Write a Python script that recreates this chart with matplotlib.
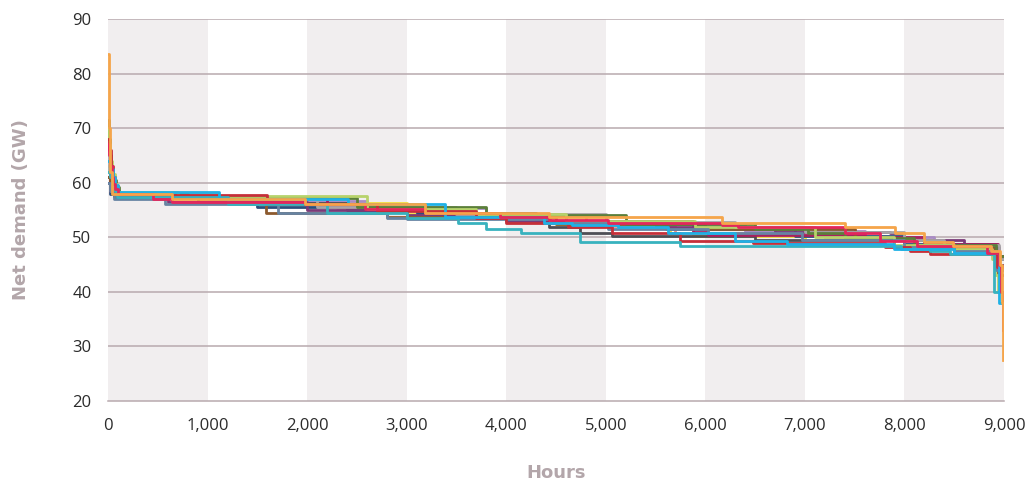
import matplotlib.pyplot as plt
from matplotlib.ticker import FuncFormatter

# hours where each step starts, and net demand (GW) for that step
orange_h = [0, 5, 15, 40, 640, 1980, 3180, 4430, 6165, 7400, 7905, 8200, 8490, 8870, 8960, 8975, 8985, 8990]
orange_v = [83.5, 70, 62, 57.9, 57.0, 56.0, 54.5, 53.7, 52.7, 51.8, 50.8, 49.2, 48.4, 47.5, 45, 38, 27.5, 27.5]

crimson_h = [0, 8, 20, 35, 50, 70, 100, 450, 640, 1980, 2580, 3185, 3940, 4430, 5020, 6165, 6330, 7400, 7750, 8130, 8830, 8950, 8970, 8985, 8990]
crimson_v = [67, 65, 63, 61, 59.8, 58.8, 57.9, 57.0, 56.5, 56.0, 55.2, 54.5, 53.7, 53.2, 52.7, 52.2, 51.8, 50.8, 49.4, 48.4, 47.2, 45, 40, 33, 33]

cyan_h = [0, 20, 45, 70, 100, 1115, 2410, 3385, 4380, 4660, 5120, 5620, 6300, 6820, 7900, 8500, 8950, 8990]
cyan_v = [64, 62.5, 61, 59.5, 58.3, 57.0, 56.0, 53.8, 52.7, 52.2, 51.8, 50.8, 49.3, 48.8, 47.8, 47.2, 38, 38]

teal_h = [0, 15, 40, 65, 90, 1200, 2200, 3000, 3520, 3800, 4150, 4740, 5745, 7970, 8255, 8460, 8900, 8990]
teal_v = [62, 61, 59.8, 58.5, 57.3, 56.1, 54.5, 53.6, 52.7, 51.6, 50.8, 49.2, 48.4, 47.9, 47.4, 47.0, 40, 40]

slate_h = [0, 20, 60, 570, 1710, 2800, 3000, 4440, 5020, 6030, 6970, 8000, 8500, 8920, 8990]
slate_v = [60, 58.5, 57.0, 56.0, 54.5, 53.6, 53.3, 52.7, 51.5, 50.8, 49.5, 48.2, 47.5, 44, 44]

brown_h = [0, 15, 60, 1590, 2800, 4500, 6000, 7500, 8300, 8900, 8940, 8990]
brown_v = [61, 59, 57.5, 54.5, 53.8, 52.5, 51.5, 49.5, 48.0, 46, 43, 43]

gray_h = [0, 10, 40, 100, 1115, 2100, 3500, 5000, 6300, 7000, 8000, 8400, 8950, 8990]
gray_v = [66, 62, 58.5, 57.9, 57.0, 55.5, 54.3, 52.8, 51.8, 51.0, 49.5, 48.5, 46, 46]

purple_h = [0, 20, 60, 600, 2000, 3000, 4000, 5500, 6700, 7850, 8000, 8600, 8950, 8990]
purple_v = [60, 58.5, 57.5, 56.5, 55.0, 54.0, 53.0, 51.9, 51.0, 50.7, 49.5, 48.3, 45, 45]

dkgreen_h = [0, 5, 15, 30, 50, 75, 110, 800, 2500, 3800, 5200, 6500, 7030, 7400, 8100, 8920, 8990]
dkgreen_v = [71.5, 68, 65, 62.5, 60.5, 59.2, 58, 57.2, 55.5, 54.0, 52.5, 51.5, 50.8, 49.8, 48.5, 46.5, 46.5]

ltgreen_h = [0, 8, 20, 40, 65, 90, 700, 2600, 3700, 4600, 5900, 7100, 7900, 8500, 8880, 8910, 8940, 8990]
ltgreen_v = [70, 67, 64, 61.5, 59.8, 58.2, 57.5, 55.2, 54.2, 53.0, 51.8, 50.0, 48.6, 47.9, 46, 43, 40, 40]

red_h = [0, 8, 25, 45, 70, 100, 1600, 2700, 3700, 4000, 4620, 5060, 5745, 6480, 7800, 8055, 8255, 8930, 8990]
red_v = [68, 66, 63, 61, 59.3, 57.8, 56.0, 54.8, 53.5, 52.7, 51.8, 50.8, 49.3, 49.0, 48.2, 47.4, 47.0, 44.5, 44.5]

yellow_h = [0, 20, 80, 1500, 3000, 4500, 5645, 5880, 7000, 8000, 8930, 8990]
yellow_v = [63, 59, 57.5, 56.3, 54.2, 52.5, 50.8, 50.3, 49.5, 48.0, 46, 46]

magenta_h = [0, 20, 70, 600, 2200, 3400, 4600, 5880, 6030, 7600, 8200, 8940, 8990]
magenta_v = [64, 60, 58, 57.2, 55.5, 54.3, 52.9, 51.0, 50.5, 50.0, 48.8, 46.5, 46.5]

dkgray_h = [0, 20, 80, 900, 2400, 3600, 4425, 4740, 5060, 6500, 7900, 8920, 8990]
dkgray_v = [61, 58.5, 57.3, 56.3, 55.0, 53.8, 51.9, 50.8, 50.2, 49.5, 48.3, 45, 45]

lavender_h = [0, 20, 80, 1000, 2600, 3800, 5000, 6400, 7600, 8300, 8940, 8990]
lavender_v = [62, 59, 57.6, 56.7, 55.3, 54.0, 52.4, 51.2, 50.0, 48.6, 46, 46]

navy_h = [0, 20, 80, 1500, 3100, 4300, 5600, 6900, 8000, 8930, 8990]
navy_v = [60, 58, 57.1, 55.6, 54.4, 53.0, 51.5, 50.3, 48.7, 46, 46]

salmon_h = [0, 15, 60, 900, 2300, 3600, 4800, 5700, 7200, 8200, 8940, 8990]
salmon_v = [65, 60, 58, 56.8, 55.3, 53.9, 52.0, 50.7, 49.8, 48.5, 46, 46]

# drawn bottom to top
series = [
    (yellow_h, yellow_v, '#F4DD3C'),
    (salmon_h, salmon_v, '#F08C86'),
    (lavender_h, lavender_v, '#A98BC4'),
    (navy_h, navy_v, '#2A4F7C'),
    (dkgray_h, dkgray_v, '#4E4E55'),
    (magenta_h, magenta_v, '#A8205F'),
    (purple_h, purple_v, '#7A3A78'),
    (brown_h, brown_v, '#8C5A2E'),
    (gray_h, gray_v, '#A8A5A7'),
    (dkgreen_h, dkgreen_v, '#5B7F3A'),
    (ltgreen_h, ltgreen_v, '#B7D36B'),
    (slate_h, slate_v, '#6784A3'),
    (red_h, red_v, '#C52F39'),
    (teal_h, teal_v, '#38B2BE'),
    (cyan_h, cyan_v, '#1FB1E6'),
    (crimson_h, crimson_v, '#E3265C'),
    (orange_h, orange_v, '#F5A54A'),
]

plt.rcParams['font.family'] = ['Open Sans', 'DejaVu Sans']

fig = plt.figure(figsize=(10.29, 4.86), dpi=100)
ax = fig.add_axes([0.105, 0.175, 0.8707, 0.786])

# alternating shaded bands
for x0 in range(0, 9000, 2000):
    ax.axvspan(x0, x0 + 1000, color='#F1EEEF', lw=0, zorder=0)

for y in range(30, 100, 10):
    ax.axhline(y, color='#B8AAAE', lw=1.1, zorder=1)

for h, v, c in series:
    ax.step(h, v, where='post', color=c, lw=2.0, zorder=3)

ax.set_xlim(0, 9000)
ax.set_ylim(20, 90)
ax.set_xticks(range(0, 9001, 1000))
ax.set_yticks(range(20, 91, 10))
ax.xaxis.set_major_formatter(FuncFormatter(lambda x, p: f'{int(x):,}'))

for s in ['top', 'right', 'left']:
    ax.spines[s].set_visible(False)
ax.spines['bottom'].set_color('#B8AAAE')
ax.spines['bottom'].set_linewidth(1.1)
ax.tick_params(axis='both', length=0, labelsize=12, colors='#2B2B2B')
ax.tick_params(axis='x', pad=12)
ax.tick_params(axis='y', pad=12)

ax.set_xlabel('Hours', fontsize=13, fontweight='bold', color='#B3A6AA',
              family=['DejaVu Sans'], labelpad=22)
ax.set_ylabel('Net demand (GW)', fontsize=13, fontweight='bold', color='#B3A6AA',
              family=['DejaVu Sans'], labelpad=30)

fig.savefig('out.png', dpi=100)
